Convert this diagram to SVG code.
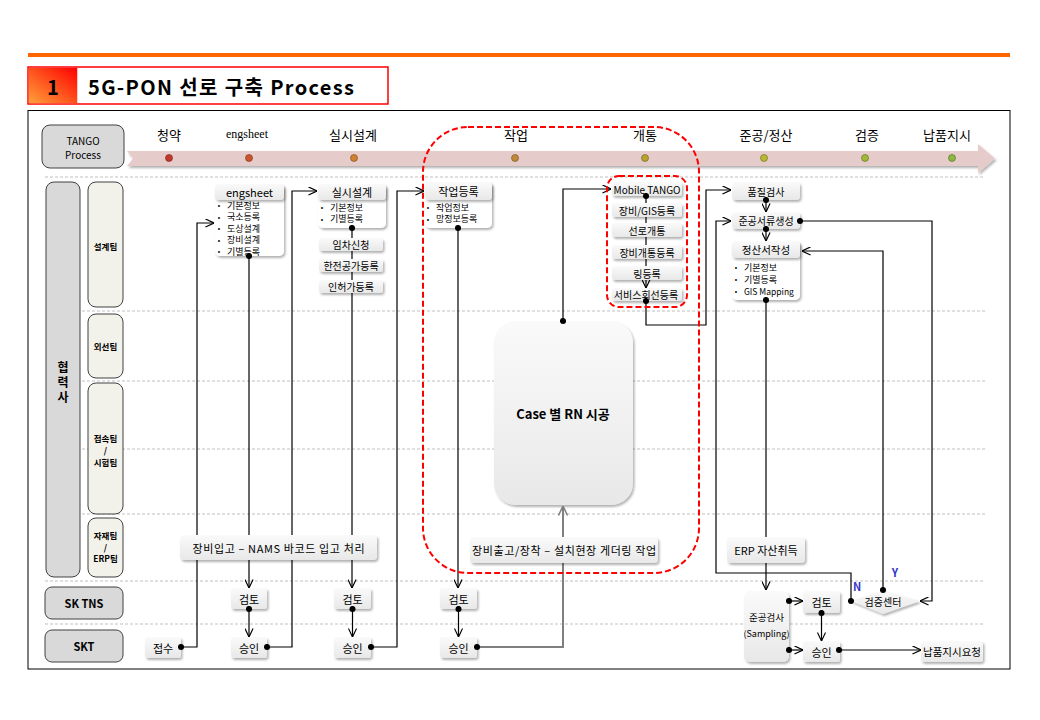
<svg xmlns="http://www.w3.org/2000/svg" width="1040" height="720" viewBox="0 0 1040 720">
<defs>
<filter id="sh" x="-20%" y="-20%" width="150%" height="170%"><feDropShadow dx="1.5" dy="2" stdDeviation="1.2" flood-color="#000" flood-opacity="0.3"/></filter>
<linearGradient id="og" x1="1" y1="0" x2="0" y2="1"><stop offset="0" stop-color="#FF0000"/><stop offset="1" stop-color="#FFA23A"/></linearGradient>
<linearGradient id="hg" x1="0" y1="0" x2="0" y2="1"><stop offset="0" stop-color="#FAFAFA"/><stop offset="1" stop-color="#E8E8E8"/></linearGradient>
<marker id="ar" viewBox="0 0 10 10" refX="9.5" refY="5" markerWidth="9" markerHeight="9" markerUnits="userSpaceOnUse" orient="auto"><path d="M0,0.5 L9.5,5 L0,9.5" fill="none" stroke="#000" stroke-width="1.3"/></marker>
<marker id="arg" viewBox="0 0 10 10" refX="9.5" refY="5" markerWidth="10" markerHeight="10" markerUnits="userSpaceOnUse" orient="auto"><path d="M0,0.5 L9.5,5 L0,9.5" fill="none" stroke="#7F7F7F" stroke-width="1.5"/></marker>
<marker id="dt" viewBox="0 0 8 8" refX="4" refY="4" markerWidth="7" markerHeight="7" markerUnits="userSpaceOnUse"><circle cx="4" cy="4" r="3.5" fill="#000"/></marker>
<style>
.f { font-family: "Noto Sans CJK KR", "Liberation Sans", sans-serif; fill: #000; }
.c { text-anchor: middle; dominant-baseline: central; }
.l { dominant-baseline: central; }
.n { fill: url(#hg); filter: url(#sh); }
.b { fill: #FFFFFF; filter: url(#sh); }
.lane { fill: #D9D9D9; stroke: #404040; stroke-width: 1; }
.team { fill: #F3F2EA; stroke: #404040; stroke-width: 1; }
.dash { stroke: #BFBFBF; stroke-width: 1; stroke-dasharray: 3 2; fill: none; }
.cn { fill: none; stroke: #000; stroke-width: 1.2; }
.s11 { font-size: 11px; }
.s10 { font-size: 10px; }
.s9 { font-size: 9px; }
.bd { font-weight: bold; }
.blue { fill: #3333CC; }
.red { fill: none; stroke: #FF0000; stroke-width: 2; stroke-dasharray: 6 3; }
</style>
</defs>

<rect x="0" y="0" width="1040" height="720" fill="#FFFFFF"/>

<!-- header -->
<rect x="28" y="53" width="982" height="4" fill="#FF6600"/>
<g id="title">
<rect x="28" y="67" width="360" height="37" fill="#FFFFFF" stroke="#FF0000" stroke-width="1.5"/>
<rect x="28.75" y="67.75" width="48.5" height="35.5" fill="url(#og)"/>
<text x="53" y="86" class="f c bd" font-size="20">1</text>
<text x="88" y="86" class="f l bd" font-size="20" textLength="266" lengthAdjust="spacing">5G-PON 선로 구축 Process</text>
</g>

<!-- frame -->
<rect x="28" y="110.5" width="982" height="558.5" fill="#FFFFFF" stroke="#000" stroke-width="1"/>

<!-- lane separators -->
<g id="lanes">
<line x1="45" y1="177" x2="985" y2="177" class="dash"/>
<line x1="82" y1="311" x2="985" y2="311" class="dash"/>
<line x1="82" y1="381" x2="985" y2="381" class="dash"/>
<line x1="82" y1="449" x2="985" y2="449" class="dash"/>
<line x1="82" y1="514" x2="985" y2="514" class="dash"/>
<line x1="45" y1="581" x2="985" y2="581" class="dash"/>
<line x1="45" y1="624" x2="985" y2="624" class="dash"/>
</g>

<!-- timeline -->
<g id="tango">
<rect x="42" y="125" width="82" height="43" rx="8" class="lane"/>
<text x="83" y="140" class="f c s10">TANGO</text>
<text x="83" y="154" class="f c s10">Process</text>
</g>
<g id="timeline">
<polygon points="127,151 978,151 978,144 995,158.5 978,173 978,166 127,166 133,158.5" fill="#E6CBCB" filter="url(#sh)"/>
<text x="169" y="134" class="f c" font-size="13">청약</text>
<text x="247" y="134" class="c" font-family="Liberation Serif, serif" font-size="12">engsheet</text>
<text x="353" y="134" class="f c" font-size="13">실시설계</text>
<text x="516" y="134" class="f c" font-size="13">작업</text>
<text x="645" y="134" class="f c" font-size="13">개통</text>
<text x="766" y="134" class="f c" font-size="13">준공/정산</text>
<text x="867" y="134" class="f c" font-size="13">검증</text>
<text x="947" y="134" class="f c" font-size="13">납품지시</text>
<circle cx="169" cy="158" r="3.5" fill="#C0392B" stroke="#7A2018" stroke-width="0.6"/>
<circle cx="249" cy="158" r="3.5" fill="#C8552B" stroke="#7A3018" stroke-width="0.6"/>
<circle cx="354" cy="158" r="3.5" fill="#D0802E" stroke="#7A4818" stroke-width="0.6"/>
<circle cx="515" cy="158" r="3.5" fill="#C08838" stroke="#70501E" stroke-width="0.6"/>
<circle cx="645" cy="158" r="3.5" fill="#B8A232" stroke="#6A5C1A" stroke-width="0.6"/>
<circle cx="764" cy="158" r="3.5" fill="#B8B832" stroke="#6A6A1A" stroke-width="0.6"/>
<circle cx="865" cy="158" r="3.5" fill="#A0B838" stroke="#5A6A1E" stroke-width="0.6"/>
<circle cx="952" cy="158" r="3.5" fill="#8DB840" stroke="#4E6A22" stroke-width="0.6"/>
</g>

<!-- lane labels -->
<g id="hyeomryeoksa">
<rect x="46" y="182" width="34" height="395" rx="8" class="lane"/>
<text x="63" y="366" class="f c bd" font-size="12">협</text>
<text x="63" y="381" class="f c bd" font-size="12">력</text>
<text x="63" y="396" class="f c bd" font-size="12">사</text>
</g>
<g id="team-design"><rect x="88" y="182" width="35" height="125" rx="8" class="team"/><text x="105.5" y="246" class="f c bd" font-size="8.5">설계팀</text></g>
<g id="team-outside"><rect x="88" y="314" width="35" height="64" rx="8" class="team"/><text x="105.5" y="346" class="f c bd" font-size="8.5">외선팀</text></g>
<g id="team-splice"><rect x="88" y="383" width="35" height="131" rx="8" class="team"/><text x="105.5" y="438" class="f c bd" font-size="8.5">접속팀</text><text x="105.5" y="450" class="f c bd" font-size="8.5">/</text><text x="105.5" y="462" class="f c bd" font-size="8.5">시험팀</text></g>
<g id="team-material"><rect x="88" y="518" width="35" height="59" rx="8" class="team"/><text x="105.5" y="535" class="f c bd" font-size="8.5">자재팀</text><text x="105.5" y="547" class="f c bd" font-size="8.5">/</text><text x="105.5" y="558" class="f c bd" font-size="8.5">ERP팀</text></g>
<g id="sktns"><rect x="45" y="587" width="78" height="32" rx="7" class="lane"/><text x="84" y="603" class="f c s11 bd">SK TNS</text></g>
<g id="skt"><rect x="45" y="630" width="78" height="32" rx="7" class="lane"/><text x="84" y="646" class="f c s11 bd">SKT</text></g>

<!-- nodes under connectors -->
<g id="engsheet">
<rect x="215" y="184" width="69" height="72" rx="5" class="b"/>
<rect x="215" y="184" width="69" height="16" rx="4" class="n"/>
<text x="249.5" y="192" class="f c s11">engsheet</text>
<text x="219" y="205" class="f c" font-size="7">•</text><text x="227" y="205" class="f l s9">기본정보</text>
<text x="219" y="216.5" class="f c" font-size="7">•</text><text x="227" y="216.5" class="f l s9">국소등록</text>
<text x="219" y="228" class="f c" font-size="7">•</text><text x="227" y="228" class="f l s9">도상설계</text>
<text x="219" y="239.5" class="f c" font-size="7">•</text><text x="227" y="239.5" class="f l s9">장비설계</text>
<text x="219" y="251" class="f c" font-size="7">•</text><text x="227" y="251" class="f l s9">기별등록</text>
</g>
<g id="silsi">
<rect x="318" y="184" width="68" height="44" rx="5" class="b"/>
<rect x="318" y="184" width="68" height="16" rx="4" class="n"/>
<text x="352" y="192" class="f c s11">실시설계</text>
<text x="322" y="207" class="f c" font-size="7">•</text><text x="330" y="207" class="f l s9">기본정보</text>
<text x="322" y="218.5" class="f c" font-size="7">•</text><text x="330" y="218.5" class="f l s9">기별등록</text>
</g>
<g id="jakeop">
<rect x="425" y="182" width="67" height="46" rx="5" class="b"/>
<rect x="425" y="182" width="67" height="18" rx="4" class="n"/>
<text x="458.5" y="191" class="f c s11">작업등록</text>
<text x="428" y="207" class="f c" font-size="7">•</text><text x="436" y="207" class="f l s9">작업정보</text>
<text x="428" y="218.5" class="f c" font-size="7">•</text><text x="436" y="218.5" class="f l s9">망정보등록</text>
</g>
<g id="case"><rect x="494" y="321" width="139" height="184" rx="22" class="n"/><text x="563" y="413" class="f c bd" font-size="13">Case 별 RN 시공</text></g>
<g id="mobile"><rect x="612" y="182" width="70" height="14" rx="3" class="n"/><text x="647" y="189" class="f c s10">Mobile TANGO</text></g>
<g id="service"><rect x="612" y="288" width="70" height="13" rx="3" class="n"/><text x="646" y="294.5" class="f c s10">서비스회선등록</text></g>
<g id="quality"><rect x="732" y="182" width="68" height="18" rx="4" class="n"/><text x="766" y="191" class="f c s10">품질검사</text></g>
<g id="docs"><rect x="732" y="212" width="68" height="17" rx="4" class="n"/><text x="766" y="220.5" class="f c s10">준공서류생성</text></g>
<g id="settle">
<rect x="732" y="241" width="68" height="59" rx="5" class="b"/>
<rect x="732" y="241" width="68" height="17" rx="4" class="n"/>
<text x="766" y="249.5" class="f c" font-size="10.5">정산서작성</text>
<text x="736" y="267" class="f c" font-size="7">•</text><text x="744" y="267" class="f l s9">기본정보</text>
<text x="736" y="279" class="f c" font-size="7">•</text><text x="744" y="279" class="f l s9">기별등록</text>
<text x="736" y="291" class="f c" font-size="7">•</text><text x="744" y="291" class="f l" font-size="8.5">GIS Mapping</text>
</g>
<g id="jeopsu"><rect x="145" y="637" width="36" height="21" rx="3" class="n"/><text x="163" y="647.5" class="f c s11">접수</text></g>
<g id="review1"><rect x="231" y="588" width="36" height="21" rx="3" class="n"/><text x="249" y="598.5" class="f c s11">검토</text></g>
<g id="approve1"><rect x="231" y="637" width="36" height="21" rx="3" class="n"/><text x="249" y="647.5" class="f c s11">승인</text></g>
<g id="review2"><rect x="334" y="588" width="37" height="21" rx="3" class="n"/><text x="352.5" y="598.5" class="f c s11">검토</text></g>
<g id="approve2"><rect x="334" y="637" width="37" height="21" rx="3" class="n"/><text x="352.5" y="647.5" class="f c s11">승인</text></g>
<g id="review3"><rect x="440" y="588" width="37" height="21" rx="3" class="n"/><text x="458.5" y="598.5" class="f c s11">검토</text></g>
<g id="approve3"><rect x="440" y="637" width="37" height="21" rx="3" class="n"/><text x="458.5" y="647.5" class="f c s11">승인</text></g>
<g id="inspect"><rect x="744" y="591" width="45" height="71" rx="6" class="n"/><text x="766.5" y="617" class="f c" font-size="9.5">준공검사</text><text x="766.5" y="633" class="f c" font-size="9">(Sampling)</text></g>
<g id="review4"><rect x="803" y="591" width="37" height="22" rx="3" class="n"/><text x="821.5" y="602" class="f c s11">검토</text></g>
<g id="approve4"><rect x="803" y="641" width="37" height="21" rx="3" class="n"/><text x="821.5" y="651.5" class="f c s11">승인</text></g>
<g id="delivery"><rect x="921" y="641" width="62" height="21" rx="3" class="n"/><text x="952" y="651.5" class="f c" font-size="10.5">납품지시요청</text></g>
<g id="verify"><polygon points="851,601 883,590 920,601 883,614" class="n"/><text x="883" y="601.5" class="f c s10">검증센터</text></g>

<!-- connectors -->
<g id="connectors">
<path d="M181,647 H197 V223 H214" class="cn" marker-start="url(#dt)" marker-end="url(#ar)"/>
<path d="M249,256 V588" class="cn" marker-start="url(#dt)" marker-end="url(#ar)"/>
<path d="M249,609 V637" class="cn" marker-start="url(#dt)" marker-end="url(#ar)"/>
<path d="M267,647 H292 V191 H317" class="cn" marker-start="url(#dt)" marker-end="url(#ar)"/>
<path d="M352,228 V588" class="cn" marker-start="url(#dt)" marker-end="url(#ar)"/>
<path d="M352.5,609 V637" class="cn" marker-start="url(#dt)" marker-end="url(#ar)"/>
<path d="M371,647 H397 V191 H424" class="cn" marker-start="url(#dt)" marker-end="url(#ar)"/>
<path d="M458,228 V588" class="cn" marker-start="url(#dt)" marker-end="url(#ar)"/>
<path d="M458.5,609 V637" class="cn" marker-start="url(#dt)" marker-end="url(#ar)"/>
<path d="M477,647 H563 V506" fill="none" stroke="#7F7F7F" stroke-width="2" marker-start="url(#dt)" marker-end="url(#arg)"/>
<path d="M563,321 V189 H611" class="cn" marker-start="url(#dt)" marker-end="url(#ar)"/>
<path d="M646,196 V288" class="cn" marker-start="url(#dt)" marker-end="url(#ar)"/>
<path d="M646,301 V325 H706 V190 H731" class="cn" marker-start="url(#dt)" marker-end="url(#ar)"/>
<path d="M766,200 V212" class="cn" marker-start="url(#dt)" marker-end="url(#ar)"/>
<path d="M766,229 V241" class="cn" marker-start="url(#dt)" marker-end="url(#ar)"/>
<path d="M800,221 H932 V601 H920" class="cn" marker-start="url(#dt)" marker-end="url(#ar)"/>
<path d="M883,590 V251 H802" class="cn" marker-start="url(#dt)" marker-end="url(#ar)"/>
<path d="M851,601 V573 H716 V221 H731" class="cn" marker-start="url(#dt)" marker-end="url(#ar)"/>
<path d="M766,300 V590" class="cn" stroke="#333" marker-start="url(#dt)" marker-end="url(#ar)"/>
<path d="M789,601 H803" class="cn" marker-start="url(#dt)" marker-end="url(#ar)"/>
<path d="M789,650 H803" class="cn" marker-start="url(#dt)" marker-end="url(#ar)"/>
<path d="M821.5,613 V641" class="cn" marker-start="url(#dt)" marker-end="url(#ar)"/>
<path d="M839,650 H921" class="cn" marker-start="url(#dt)" marker-end="url(#ar)"/>
<text x="857" y="586" class="f c s11 bd blue">N</text>
<text x="895" y="572" class="f c s11 bd blue">Y</text>
</g>

<!-- nodes over connectors -->
<g id="imcha"><rect x="319" y="238" width="64" height="13" rx="3" class="n"/><text x="351" y="244.5" class="f c s10">임차신청</text></g>
<g id="hanjeon"><rect x="319" y="259" width="64" height="13" rx="3" class="n"/><text x="351" y="265.5" class="f c s10">한전공가등록</text></g>
<g id="inheoga"><rect x="319" y="280" width="64" height="13" rx="3" class="n"/><text x="351" y="286.5" class="f c s10">인허가등록</text></g>
<g id="equip-gis"><rect x="612" y="203" width="70" height="14" rx="3" class="n"/><text x="647" y="210" class="f c s10">장비/GIS등록</text></g>
<g id="line-open"><rect x="612" y="223" width="70" height="14" rx="3" class="n"/><text x="647" y="230" class="f c s10">선로개통</text></g>
<g id="equip-open"><rect x="612" y="245" width="70" height="14" rx="3" class="n"/><text x="647" y="252" class="f c s10">장비개통등록</text></g>
<g id="ring"><rect x="612" y="266" width="70" height="14" rx="3" class="n"/><text x="647" y="273" class="f c s10">링등록</text></g>
<g id="equip-in"><rect x="180" y="535" width="197" height="25" rx="4" class="n"/><text x="278.5" y="547.5" class="f c s11" textLength="172" lengthAdjust="spacing">장비입고 – NAMS 바코드 입고 처리</text></g>
<g id="equip-out"><rect x="470" y="537" width="188" height="26" rx="4" class="n"/><text x="564" y="550" class="f c s11" textLength="184" lengthAdjust="spacing">장비출고/장착 – 설치현장 게더링 작업</text></g>
<g id="erp"><rect x="727" y="537" width="78" height="26" rx="4" class="n"/><text x="766" y="550" class="f c s11">ERP 자산취득</text></g>

<!-- highlight areas -->
<g id="highlight">
<rect x="423" y="127" width="276" height="446" rx="45" class="red"/>
<rect x="607" y="176" width="80" height="131" rx="12" class="red"/>
</g>
</svg>
